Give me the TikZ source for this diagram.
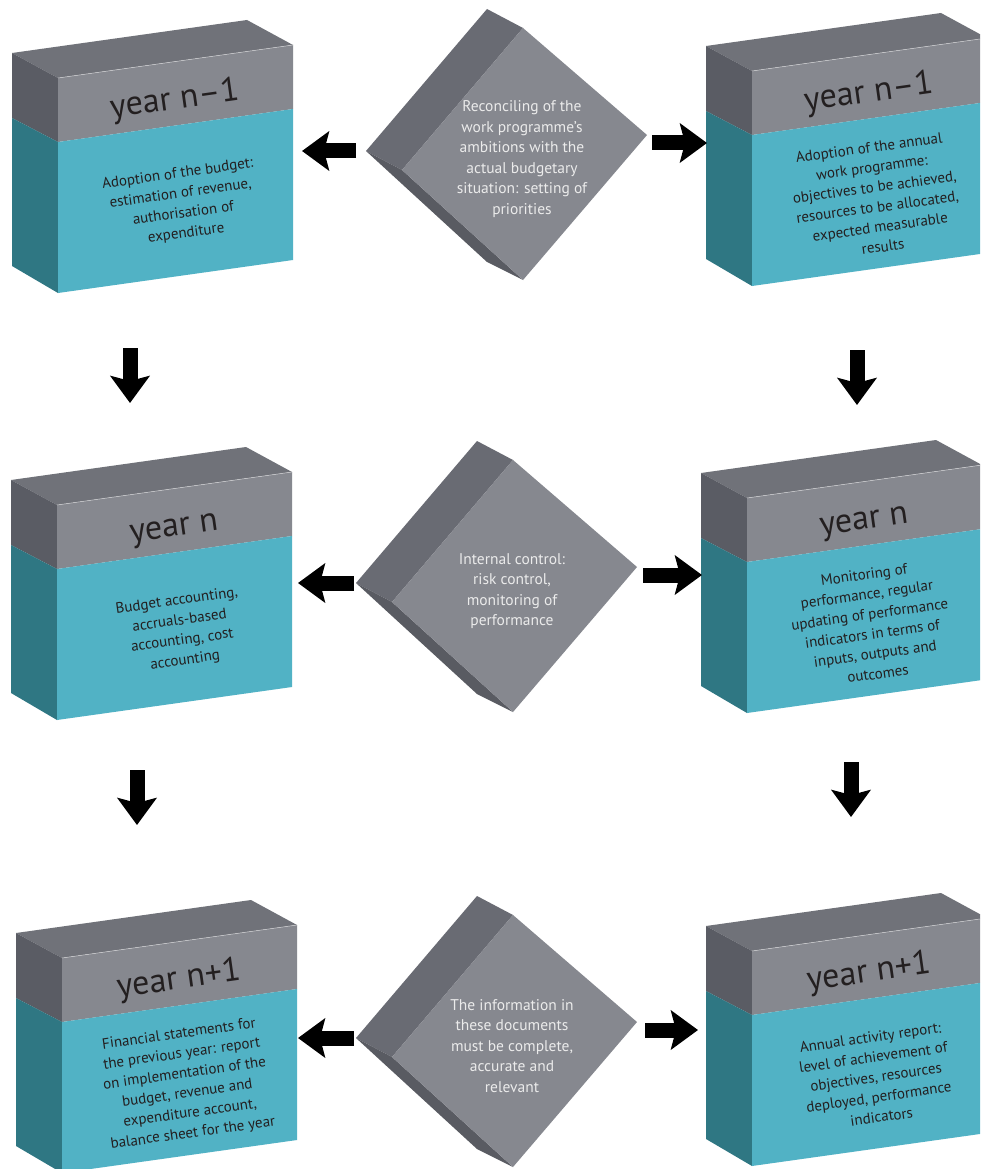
\documentclass[tikz,border=0pt]{standalone}
\usepackage{fontspec}
\setmainfont{PT Sans}
\usetikzlibrary{arrows.meta,calc}

\definecolor{topgray}{HTML}{707279}
\definecolor{frontgray}{HTML}{86888F}
\definecolor{sidegray}{HTML}{5A5C64}
\definecolor{frontteal}{HTML}{51B2C5}
\definecolor{sideteal}{HTML}{2F7783}
\definecolor{diaupper}{HTML}{696B73}
\definecolor{dialower}{HTML}{595B62}
\definecolor{inkdark}{HTML}{231F20}

\tikzset{boxtop/.style={fill=topgray},
        boxside/.style={fill=sidegray},
        boxsidelow/.style={fill=sideteal},
        boxfront/.style={fill=frontgray},
        boxfrontlow/.style={fill=frontteal},
        boxedge/.style={draw=white!60!frontgray, line width=0.5pt},
        yearlabel/.style={anchor=base, rotate=8, text=inkdark,
                          font=\fontsize{34}{34}\selectfont, inner sep=0pt},
        boxtext/.style={rotate=8, align=center, text=inkdark,
                        font=\fontsize{15}{20}\selectfont, inner sep=0pt},
        diaface/.style={fill=frontgray},
        diatext/.style={align=center, text=white!92!black,
                        font=\fontsize{15.5}{20.5}\selectfont, inner sep=0pt},
        flow/.style={line width=15pt, -{Stealth[length=27pt, width=39pt, inset=5pt]}},
        }

% box with a year on top: name, front corner, year, text
\newcommand{\yearbox}[4]{%
  \begin{scope}[shift={#2}]
    \fill[boxtop] (0,0) -- (-46,-25) -- (189,-58) -- (235,-33) -- cycle;
    \fill[boxside] (0,0) -- (-46,-25) -- (-46,40) -- (0,64) -- cycle;
    \fill[boxsidelow] (-46,40) -- (0,64) -- (0,215) -- (-46,188) -- cycle;
    \fill[boxfront] (0,0) -- (235,-33) -- (235,31) -- (0,64) -- cycle;
    \fill[boxfrontlow] (0,64) -- (235,31) -- (235,182) -- (0,215) -- cycle;
    \draw[boxedge] (0,0) -- (235,-33);
    \node[yearlabel] (#1-year) at (118,31) {#3};
    \node[boxtext] (#1) at (124,126) {#4};
    \coordinate (#1-w) at (-46,100);
    \coordinate (#1-e) at (235,100);
    \coordinate (#1-s) at (0,215);
  \end{scope}}

% tilted diamond block: name, top corner, text
\newcommand{\diamondblock}[3]{%
  \begin{scope}[shift={#2}]
    \fill[diaupper] (-121,142) -- (0,0) -- (-36,-19) -- (-157,123) -- cycle;
    \fill[dialower] (-121,142) -- (0,252) -- (-36,234) -- (-157,123) -- cycle;
    \fill[diaface] (0,0) -- (124,107) -- (0,252) -- (-121,142) -- cycle;
    \node[diatext] (#1) at (-1,131) {#3};
    \coordinate (#1-w) at (-157,123);
    \coordinate (#1-e) at (124,107);
  \end{scope}}

\begin{document}
\begin{tikzpicture}[x=1pt, y=-1pt]
    \useasboundingbox (0,0) rectangle (980,1169);
    \fill[white] (0,0) rectangle (980,1169);
    \clip (0,0) rectangle (980,1169);

    \yearbox{budget}{(58,78)}{year n–1}{Adoption of the budget:\\ estimation of revenue,\\ authorisation of\\ expenditure}
    \yearbox{workprog}{(752,71)}{year n–1}{Adoption of the annual\\ work programme:\\ objectives to be achieved,\\ resources to be allocated,\\ expected measurable\\ results}
    \yearbox{accounting}{(57,505)}{year n}{Budget accounting,\\ accruals-based\\ accounting, cost\\ accounting}
    \yearbox{monitoring}{(747,498)}{year n}{Monitoring of\\ performance, regular\\ updating of performance\\ indicators in terms of\\ inputs, outputs and\\ outcomes}
    \yearbox{statements}{(62,958)}{year n+1}{Financial statements for\\ the previous year: report\\ on implementation of the\\ budget, revenue and\\ expenditure account,\\ balance sheet for the year}
    \yearbox{activity}{(752,951)}{year n+1}{Annual activity report:\\ level of achievement of\\ objectives, resources\\ deployed, performance\\ indicators}

    \diamondblock{reconcile}{(523,28)}{Reconciling of the\\ work programme’s\\ ambitions with the\\ actual budgetary\\ situation: setting of\\ priorities}
    \diamondblock{control}{(513,460)}{Internal control:\\ risk control,\\ monitoring of\\ performance}
    \diamondblock{info}{(513,915)}{The information in\\ these documents\\ must be complete,\\ accurate and\\ relevant}

    \draw[flow] ($(reconcile-w)+(-10,0)$) -- ($(reconcile-w -| budget-e)+(9,0)$);
    \draw[flow] ($(reconcile-e)+(5,8)$) -- ($(reconcile-e -| workprog-w)+(1,8)$);
    \draw[flow] ($(control-w)+(-2,0)$) -- ($(control-w -| accounting-e)+(6,0)$);
    \draw[flow] ($(control-e)+(6,8)$) -- ($(control-e -| monitoring-w)+(1,8)$);
    \draw[flow] ($(info-w)+(-2,0)$) -- ($(info-w -| statements-e)+(1,0)$);
    \draw[flow] ($(info-e)+(8,8)$) -- ($(info-e -| activity-w)+(-8,8)$);

    \draw[flow] ($(budget-s)+(72,55)$) -- ($(budget-s)+(72,110)$);
    \draw[flow] ($(workprog-s)+(105,64)$) -- ($(workprog-s)+(105,119)$);
    \draw[flow] ($(accounting-s)+(80,50)$) -- ($(accounting-s)+(80,105)$);
    \draw[flow] ($(monitoring-s)+(104,49)$) -- ($(monitoring-s)+(104,104)$);

\end{tikzpicture}
\end{document}
